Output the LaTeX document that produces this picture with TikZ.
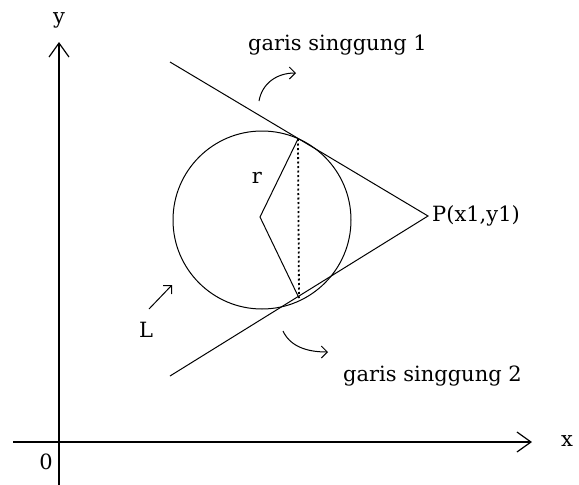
\documentclass[tikz,border=0pt]{standalone}
\usepackage{fontspec}
\setmainfont{DejaVu Serif}
\usetikzlibrary{arrows.meta, positioning}

\begin{document}
\begin{tikzpicture}[
        x=1pt, y=-1pt,
        axis/.style={line width=1.4pt, -{Straight Barb[length=14pt, width=20pt, line width=1.2pt]}},
        tangent/.style={line width=1pt},
        pointer/.style={line width=1pt, -{Straight Barb[length=6pt, width=12pt]}},
        annot/.style={inner sep=0pt, font=\fontsize{21}{24}\selectfont}
    ]
    \useasboundingbox (0,0) rectangle (579,485);

    % Axes
    \coordinate (origin) at (59,442);
    \coordinate (xstart) at (13,442);
    \coordinate (xend) at (532,442);
    \coordinate (ystart) at (59,485);
    \coordinate (yend) at (59,42);
    \draw[axis] (xstart) -- (xend);
    \draw[axis] (ystart) -- (yend);
    \node[annot] (xlabel) at (567,441) {x};
    \node[annot] (ylabel) at (59,20) {y};
    \node[annot] (zero) at (46,462) {0};

    % Circle L
    \coordinate (center) at (262,220);
    \draw[tangent] (center) circle (89);

    % Tangent lines through P
    \coordinate (P) at (428,216);
    \coordinate (end1) at (170,62);
    \coordinate (end2) at (170,376);
    \coordinate (T1) at (298,139);
    \coordinate (T2) at (299,298);
    \coordinate (K) at (260,217);
    \draw[tangent] (end1) -- (P) -- (end2);
    \node[annot, anchor=west] (plabel) at (432,216) {P(x1,y1)};

    % Radii and chord
    \draw[tangent] (T1) -- (K) -- (T2);
    \draw[line width=1.8pt, dash pattern=on 2pt off 2.5pt] (T1) -- (T2);
    \node[annot] (rlabel) at (257,178) {r};

    % Labels
    \node[annot, anchor=west] (g1) at (248,45) {garis singgung 1};
    \node[annot, anchor=west] (g2) at (343,376) {garis singgung 2};
    \node[annot] (llabel) at (146,330) {L};

    % Pointers
    \coordinate (p1a) at (259,101);
    \coordinate (p1b) at (296,73);
    \draw[pointer] (p1a) .. controls (262,84) and (276,73) .. (p1b);
    \coordinate (p2a) at (283,331);
    \coordinate (p2b) at (328,352);
    \draw[pointer] (p2a) .. controls (290,346) and (306,352) .. (p2b);
    \coordinate (p3a) at (149,309);
    \coordinate (p3b) at (172,285);
    \draw[pointer] (p3a) -- (p3b);

\end{tikzpicture}
\end{document}
